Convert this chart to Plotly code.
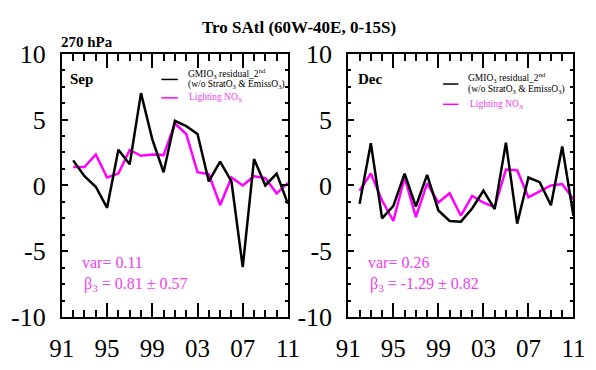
import plotly.graph_objects as go

years = list(range(1992, 2012))
sep_resid = [1.9, 0.7, -0.1, -1.7, 2.7, 1.6, 7.0, 3.5, 1.0, 4.9, 4.5, 3.9, 0.3, 1.8, 0.3, -6.2, 2.0, 0.0, 0.9, -1.4]
sep_nox = [1.4, 1.4, 2.35, 0.6, 0.9, 2.7, 2.25, 2.35, 2.3, 4.7, 3.9, 1.0, 0.85, -1.5, 0.6, 0.0, 0.7, 0.55, -0.6, 0.2]
dec_resid = [-1.4, 3.2, -2.5, -1.55, 0.9, -1.6, 0.8, -1.9, -2.7, -2.75, -1.75, -0.4, -1.8, 3.25, -2.9, 0.6, 0.25, -1.5, 2.95, -2.3]
dec_nox = [-0.4, 0.9, -1.15, -2.7, 0.6, -2.4, 0.15, -1.3, -0.6, -2.3, -0.8, -1.3, -1.65, 1.2, 1.15, -0.9, -0.45, 0.0, 0.1, -1.05]

xtick_vals = [1991, 1995, 1999, 2003, 2007, 2011]
xtick_text = ["91", "95", "99", "03", "07", "11"]
ytick_vals = [-10, -5, 0, 5, 10]
ytick_text = ["-10", "-5", "0", "5", "10"]

title = "Tro SAtl (60W-40E, 0-15S)"
level = "270 hPa"
months = ["Sep", "Dec"]
stats = [("var= 0.11", "β<sub>3</sub> = 0.81 ± 0.57"), ("var= 0.26", "β<sub>3</sub> = -1.29 ± 0.82")]

W, H = 596, 370
SERIF = "'Liberation Serif', 'Times New Roman', Times, serif"
MAG_LINE = "#ff00ff"
MAG_TEXT = "#f040f0"

fig = go.Figure()

panels = [
    ("x", "y", sep_resid, sep_nox),
    ("x2", "y2", dec_resid, dec_nox),
]
for xa, ya, resid, nox in panels:
    fig.add_trace(go.Scatter(x=years, y=nox, mode="lines", line=dict(color=MAG_LINE, width=2.5),
                             xaxis=xa, yaxis=ya, showlegend=False))
    fig.add_trace(go.Scatter(x=years, y=resid, mode="lines", line=dict(color="black", width=2.5),
                             xaxis=xa, yaxis=ya, showlegend=False))

def xaxis_cfg(domain):
    return dict(domain=domain, range=[1991, 2011], showgrid=False, zeroline=False,
                showline=True, linecolor="black", linewidth=2, mirror="ticks",
                ticks="inside", ticklen=14, tickwidth=1.5, tickcolor="black",
                tickvals=xtick_vals, ticktext=xtick_text, ticklabelstandoff=8,
                tickfont=dict(family=SERIF, size=25, color="black"),
                minor=dict(dtick=1, tick0=1991, ticks="inside", ticklen=7, tickwidth=1.5, tickcolor="black", showgrid=False))

def yaxis_cfg(domain, anchor):
    return dict(domain=domain, range=[-10, 10], showgrid=False, zeroline=False, anchor=anchor,
                showline=True, linecolor="black", linewidth=2, mirror="ticks",
                ticks="inside", ticklen=6, tickwidth=1.5, tickcolor="black",
                tickvals=ytick_vals, ticktext=ytick_text, ticklabelstandoff=9,
                tickfont=dict(family=SERIF, size=26, color="black"),
                minor=dict(dtick=1.25, tick0=0, ticks="inside", ticklen=3, tickwidth=1.5, tickcolor="black", showgrid=False))

ydom = [1 - 329 / H, 1 - 43 / H]
fig.update_layout(
    xaxis=dict(xaxis_cfg([51 / W, 287 / W]), anchor="y"),
    yaxis=yaxis_cfg(ydom, "x"),
    xaxis2=dict(xaxis_cfg([350 / W, 585 / W]), anchor="y2"),
    yaxis2=yaxis_cfg(ydom, "x2"),
)

annotations = [
    dict(text="<b>" + title + "</b>", x=298 / W, y=1 - 15 / H, xref="paper", yref="paper",
         showarrow=False, font=dict(family=SERIF, size=17, color="black"), xanchor="center", yanchor="middle"),
    dict(text="<b>" + level + "</b>", x=48 / W, y=1 - 30 / H, xref="paper", yref="paper",
         showarrow=False, font=dict(family=SERIF, size=15, color="black"), xanchor="left", yanchor="middle"),
]
shapes = []

leg_pos = [
    dict(sx=0.025, my=70, tx=0.547, t1=65, t2=77, lb=71, lm=91, l0=0.44, l1=0.513),
    dict(sx=0.034, my=70, tx=0.523, t1=69, t2=82, lb=76, lm=98, l0=0.421, l1=0.489),
]
for i, (sfx, pos) in enumerate(zip(["", "2"], leg_pos)):
    xr = "x" + sfx + " domain"
    yr = "y" + sfx + " domain"
    yd = lambda py: (329 - py) / 286
    annotations += [
        dict(text="<b>" + months[i] + "</b>", x=pos["sx"], y=yd(pos["my"]), xref=xr, yref=yr,
             showarrow=False, font=dict(family=SERIF, size=15, color="black"), xanchor="left", yanchor="middle"),
        dict(text="GMIO<sub>3</sub> residual_2<sup>nd</sup>", x=pos["tx"], y=yd(pos["t1"]), xref=xr, yref=yr,
             showarrow=False, font=dict(family=SERIF, size=9.5, color="black"), xanchor="left", yanchor="middle"),
        dict(text="(w/o StratO<sub>3</sub> & EmissO<sub>3</sub>)", x=pos["tx"], y=yd(pos["t2"]), xref=xr, yref=yr,
             showarrow=False, font=dict(family=SERIF, size=9.5, color="black"), xanchor="left", yanchor="middle"),
        dict(text="Lighting NO<sub>X</sub>", x=pos["tx"] + 0.008, y=yd(pos["lm"]), xref=xr, yref=yr,
             showarrow=False, font=dict(family=SERIF, size=9.5, color=MAG_TEXT), xanchor="left", yanchor="middle"),
        dict(text=stats[i][0], x=0.08, y=yd(270), xref=xr, yref=yr,
             showarrow=False, font=dict(family=SERIF, size=16, color=MAG_TEXT), xanchor="left", yanchor="middle"),
        dict(text=stats[i][1], x=0.088, y=yd(293), xref=xr, yref=yr,
             showarrow=False, font=dict(family=SERIF, size=16, color=MAG_TEXT), xanchor="left", yanchor="middle"),
    ]
    shapes += [
        dict(type="line", xref=xr, yref=yr, x0=pos["l0"], x1=pos["l1"], y0=yd(pos["lb"]), y1=yd(pos["lb"]),
             line=dict(color="black", width=1.5)),
        dict(type="line", xref=xr, yref=yr, x0=pos["l0"], x1=pos["l1"], y0=yd(pos["lm"]), y1=yd(pos["lm"]),
             line=dict(color=MAG_LINE, width=1.5)),
    ]

fig.update_layout(
    width=W, height=H, margin=dict(l=0, r=0, t=0, b=0),
    paper_bgcolor="white", plot_bgcolor="white",
    annotations=annotations, shapes=shapes, showlegend=False,
)

fig.write_html("out.html", config=dict(displayModeBar=False))
